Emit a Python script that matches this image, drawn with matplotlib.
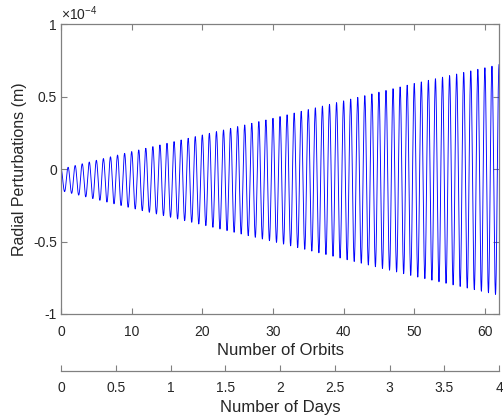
import numpy as np
import matplotlib
matplotlib.use('Agg')
import matplotlib.pyplot as plt

plt.rcParams['font.family'] = ['Liberation Sans', 'DejaVu Sans']
plt.rcParams['mathtext.fontset'] = 'custom'
plt.rcParams['mathtext.rm'] = 'Liberation Sans'
plt.rcParams['mathtext.it'] = 'Liberation Sans'

# envelope of the radial perturbation (units of 1e-4 m)
orbit_marks = [0, 10, 20, 30, 40, 50, 62]
upper_env = [0.00, 0.12, 0.235, 0.35, 0.47, 0.59, 0.72]
lower_env = [-0.15, -0.27, -0.385, -0.50, -0.62, -0.74, -0.87]

orbit_ticks = [0, 10, 20, 30, 40, 50, 60]
day_ticks = [0, 0.5, 1, 1.5, 2, 2.5, 3, 3.5, 4]
n_orbits = 62
n_days = 4

TXT = '#262626'
AX = '#808080'

# one oscillation per orbit between the envelopes
n = np.linspace(0, n_orbits, 8000)
up = np.interp(n, orbit_marks, upper_env)
lo = np.interp(n, orbit_marks, lower_env)
r = (up + lo) / 2 + (up - lo) / 2 * np.cos(2 * np.pi * n)

fig = plt.figure(figsize=(5.03, 4.19), dpi=100)
ax = fig.add_axes([0.1213, 0.2506, 0.8708, 0.6921])
ax.plot(n, r, color='#0000ff', lw=0.65)
ax.set_xlim(0, n_orbits)
ax.set_ylim(-1, 1)
ax.set_xticks(orbit_ticks)
ax.set_yticks([-1, -0.5, 0, 0.5, 1])
ax.set_yticklabels(['-1', '-0.5', '0', '0.5', '1'])
ax.tick_params(direction='in', length=4, width=0.8, colors=AX,
               labelcolor=TXT, labelsize=10, top=True, right=True, pad=3)
ax.tick_params(axis='x', pad=8)
for s in ax.spines.values():
    s.set_color(AX)
    s.set_linewidth(0.9)
ax.set_xlabel('Number of Orbits', fontsize=12, color=TXT, labelpad=3)
ax.set_ylabel('Radial Perturbations (m)', fontsize=11.5, color=TXT, labelpad=4)
ax.text(0.0, 1.005, r'$\times10^{-4}$', transform=ax.transAxes,
        fontsize=10, color=TXT, ha='left', va='bottom')

# second axis for days
ax2 = fig.add_axes([0.1213, 0.1146, 0.8708, 0.0001])
ax2.set_xlim(0, n_days)
ax2.set_xticks(day_ticks)
ax2.set_xticklabels(['0', '0.5', '1', '1.5', '2', '2.5', '3', '3.5', '4'])
ax2.set_yticks([])
for k in ['top', 'left', 'right']:
    ax2.spines[k].set_visible(False)
ax2.spines['bottom'].set_color(AX)
ax2.spines['bottom'].set_linewidth(0.9)
ax2.patch.set_visible(False)
ax2.tick_params(axis='x', direction='in', length=4, width=0.8, colors=AX,
                labelcolor=TXT, labelsize=10, pad=7)
ax2.set_xlabel('Number of Days', fontsize=12, color=TXT, labelpad=4)

fig.savefig('out.png', dpi=100)
